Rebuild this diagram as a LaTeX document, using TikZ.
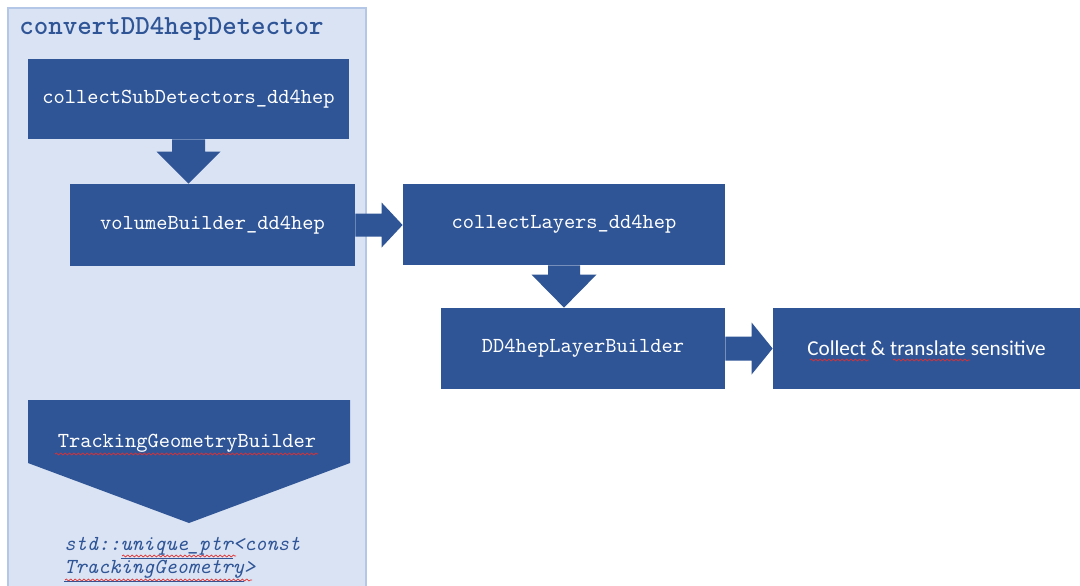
\documentclass[tikz,border=0pt]{standalone}
\usepackage{fontspec}
\newfontfamily\calibrilike{Carlito}
\usetikzlibrary{calc,decorations.pathmorphing}
\definecolor{boxblue}{HTML}{2F5597}
\definecolor{panelfill}{HTML}{DAE3F3}
\definecolor{panelline}{HTML}{B4C7E7}
\definecolor{spellred}{HTML}{E03030}
\tikzset{
  stepbox/.style={fill=boxblue, draw=none, inner sep=0pt, text=white,
    font=\ttfamily\fontsize{10.7}{12}\selectfont},
  blockarrow/.style={fill=boxblue, draw=none},
  squiggle/.style={draw=spellred, line width=0.35pt,
    decorate, decoration={snake, amplitude=0.5, segment length=2.2}},
}
\begin{document}
\begin{tikzpicture}[x=0.5pt, y=-0.5pt]
  \useasboundingbox (0,0) rectangle (1080,585);
  \fill[white] (0,0) rectangle (1080,585);

  % panel of convertDD4hepDetector
  \filldraw[fill=panelfill, draw=panelline, line width=0.8pt] (8,8) rectangle (366,590);
  \node[anchor=west, text=boxblue, font=\ttfamily\bfseries\fontsize{13.8}{15}\selectfont, inner sep=0pt]
    (title) at (19,29) {convertDD4hepDetector};

  % processing steps
  \node[stepbox, minimum width=160.5pt, minimum height=40pt] (b1) at (188.5,99) {collectSubDetectors\_dd4hep};
  \node[stepbox, minimum width=142.5pt, minimum height=41pt] (b2) at (212.5,225) {volumeBuilder\_dd4hep};
  \node[stepbox, minimum width=161pt, minimum height=40.5pt] (b3) at (564,224.5) {collectLayers\_dd4hep};
  \node[stepbox, minimum width=142pt, minimum height=40.5pt] (b4) at (583,348.5) {DD4hepLayerBuilder};
  \node[stepbox, minimum width=153.5pt, minimum height=40.5pt, font=\calibrilike\fontsize{10.6}{12}\selectfont]
    (b5) at (926.5,348.5) {Collect \& translate sensitive};

  % block arrows between the steps
  \coordinate (t1) at (b1.south |- b2.north);
  \fill[blockarrow] ($(b1.south)+(-16.5,0)$) -- ($(b1.south)+(16.5,0)$) -- ($(t1)+(16.5,-32)$)
    -- ($(t1)+(32,-32)$) -- (t1) -- ($(t1)+(-32,-32)$) -- ($(t1)+(-16.5,-32)$) -- cycle;

  \coordinate (t2) at (b3.west |- b2.east);
  \fill[blockarrow] ($(b2.east)+(0,-11.5)$) -- ($(t2)+(-21,-11.5)$) -- ($(t2)+(-21,-22.5)$)
    -- (t2) -- ($(t2)+(-21,22.5)$) -- ($(t2)+(-21,11.5)$) -- ($(b2.east)+(0,11.5)$) -- cycle;

  \coordinate (t3) at (b3.south |- b4.north);
  \fill[blockarrow] ($(b3.south)+(-16,0)$) -- ($(b3.south)+(16,0)$) -- ($(t3)+(16,-33)$)
    -- ($(t3)+(32.5,-33)$) -- (t3) -- ($(t3)+(-32.5,-33)$) -- ($(t3)+(-16,-33)$) -- cycle;

  \coordinate (t4) at (b5.west |- b4.east);
  \fill[blockarrow] ($(b4.east)+(0,-12)$) -- ($(t4)+(-21,-12)$) -- ($(t4)+(-21,-26)$)
    -- (t4) -- ($(t4)+(-21,26)$) -- ($(t4)+(-21,12)$) -- ($(b4.east)+(0,12)$) -- cycle;

  % TrackingGeometryBuilder chevron
  \fill[blockarrow] (28,400) -- (350,400) -- (350,463) -- (189,523) -- (28,463) -- cycle;
  \node[stepbox, fill=none] (tgb) at (187,443) {TrackingGeometryBuilder};

  % returned object
  \node[anchor=north west, align=left, text=boxblue, inner sep=0pt,
    font=\ttfamily\itshape\fontsize{10.7}{11.6}\selectfont] (ret) at (64,537)
    {std::\underline{unique\_ptr}<const\\\underline{TrackingGeometry}>};

  % spell-check marks
  \draw[squiggle] (55,454) -- (318,454);
  \draw[squiggle] (122,556) -- (236,556);
  \draw[squiggle] (65,580) -- (252,580);
  \draw[squiggle] (810,360) -- (869,360);
  \draw[squiggle] (893,360) -- (970,360);
\end{tikzpicture}
\end{document}
